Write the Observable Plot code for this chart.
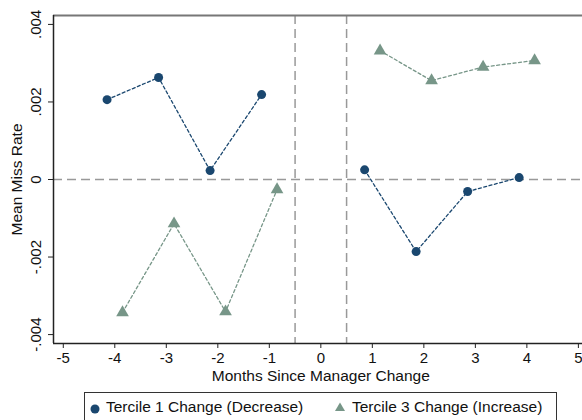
<!DOCTYPE html>
<html><head><meta charset="utf-8">
<script src="https://cdn.jsdelivr.net/npm/d3@7"></script>
<script src="https://cdn.jsdelivr.net/npm/@observablehq/plot@0.6"></script>
<style>
body{margin:0;background:#fff;font-family:"Liberation Sans",Arial,sans-serif;}
#wrap{position:relative;width:582px;height:420px;overflow:hidden;}
#legend{position:absolute;left:84px;top:392px;width:473px;height:40px;border:1px solid #333;box-sizing:border-box;font-size:15.5px;color:#111;}
#legend span{position:absolute;top:5px;white-space:nowrap;}
</style></head>
<body><div id="wrap"><div id="chart"></div>
<div id="legend">
<svg style="position:absolute;left:3px;top:9px" width="14" height="14"><circle cx="7" cy="7" r="4.5" fill="#1a476f"/></svg>
<span style="left:21px">Tercile 1 Change (Decrease)</span>
<svg style="position:absolute;left:248px;top:7px" width="14" height="14"><path d="M7,2.5 L12,11 L2,11 Z" fill="#779688"/></svg>
<span style="left:267px">Tercile 3 Change (Increase)</span>
</div></div>
<script>
const months1 = [-4.15, -3.15, -2.15, -1.15, 0.85, 1.85, 2.85, 3.85];
const tercile1 = [0.00206, 0.00263, 0.00023, 0.00219, 0.00025, -0.00186, -0.00031, 0.00005];
const months3 = [-3.85, -2.85, -1.85, -0.85, 1.15, 2.15, 3.15, 4.15];
const tercile3 = [-0.00343, -0.00114, -0.00341, -0.00026, 0.00332, 0.00255, 0.00290, 0.00307];
const xTicks = [-5,-4,-3,-2,-1,0,1,2,3,4,5];
const yTicks = [-0.004,-0.002,0,0.002,0.004];
const yTickLabels = ["-.004","-.002","0",".002",".004"];
const vRefs = [-0.5, 0.5];
const hRefs = [0];

const pre = months1.map((m,i)=>({m, v: tercile1[i], seg: m<0?"a":"b"}));
const inc = months3.map((m,i)=>({m, v: tercile3[i], seg: m<0?"a":"b"}));
const ytab = yTicks.map((v,i)=>({v, t: yTickLabels[i]}));
const X0 = -5.19, X1 = 5.08, Y0 = -0.00423, Y1 = 0.00423;
const navy = "#1a476f", green = "#779688";

const chart = Plot.plot({
  width: 582, height: 388,
  marginLeft: 53, marginRight: 0, marginTop: 15, marginBottom: 45,
  style: {fontFamily: "Liberation Sans, Arial, sans-serif", fontSize: "15px", color: "#111"},
  x: {type: "linear", domain: [X0, X1], label: null},
  y: {type: "linear", domain: [Y0, Y1], label: null},
  marks: [
    Plot.ruleY(hRefs, {stroke: "#999", strokeWidth: 1.5, strokeDasharray: "9,5"}),
    Plot.ruleX(vRefs, {stroke: "#999", strokeWidth: 1.5, strokeDasharray: "9,5"}),
    Plot.ruleY([Y1], {stroke: "#777", strokeWidth: 2}),
    Plot.ruleX([X0], {stroke: "#222", strokeWidth: 1.5}),
    Plot.ruleY([Y0], {stroke: "#222", strokeWidth: 1.5}),
    Plot.line(pre, {x: "m", y: "v", z: "seg", stroke: navy, strokeWidth: 1.3, strokeDasharray: "3,2.5"}),
    Plot.line(inc, {x: "m", y: "v", z: "seg", stroke: green, strokeWidth: 1.3, strokeDasharray: "3,2.5"}),
    Plot.dot(pre, {x: "m", y: "v", r: 4.5, fill: navy, symbol: "circle"}),
    Plot.dot(inc, {x: "m", y: "v", r: 4.7, fill: green, symbol: "triangle"}),
    Plot.axisX({ticks: xTicks, tickSize: 5, tickPadding: 4, tickFormat: d => String(d), stroke: "#222", label: null, fontSize: 15}),
    Plot.axisY({ticks: yTicks, tickSize: 5, tickFormat: () => "", stroke: "#222", label: null}),
    Plot.text(ytab, {x: X0, y: "v", text: "t", rotate: -90, dx: -13, textAnchor: "middle", lineAnchor: "bottom", fontSize: 15}),
    Plot.text(["Months Since Manager Change"], {frameAnchor: "bottom", x: 0, dy: 33, lineAnchor: "middle", fontSize: 15.5, textAnchor: "middle"}),
    Plot.text(["Mean Miss Rate"], {frameAnchor: "left", y: 0, dx: -36, rotate: -90, fontSize: 15.5, textAnchor: "middle"})
  ]
});
document.getElementById("chart").appendChild(chart);
</script></body></html>
